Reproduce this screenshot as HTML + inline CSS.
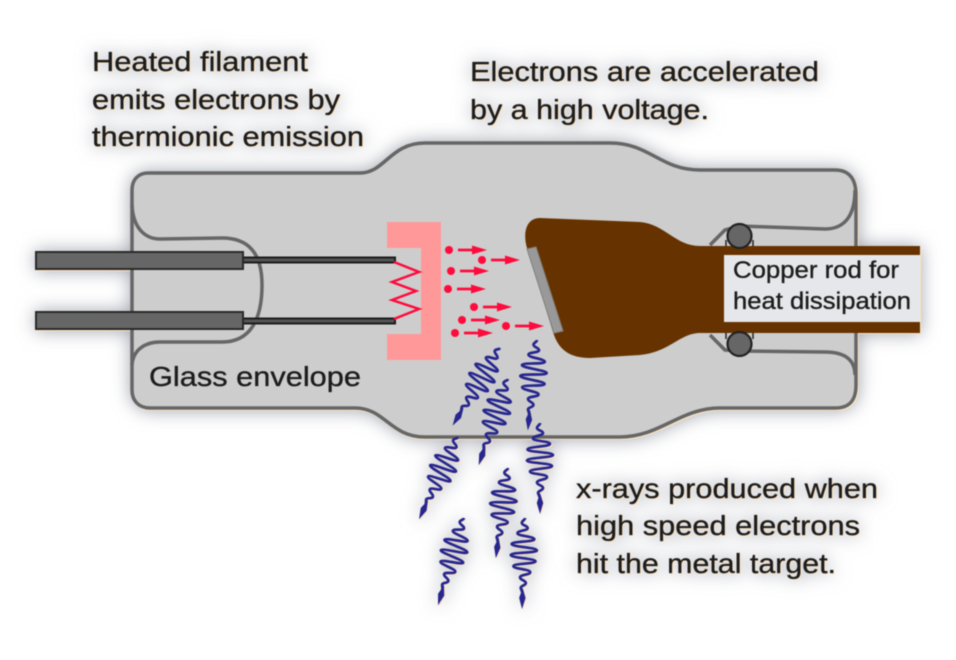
<!DOCTYPE html>
<html><head><meta charset="utf-8"><style>
html,body{margin:0;padding:0;background:#fff;width:956px;height:660px;overflow:hidden}
svg{display:block}
text{font-family:"Liberation Sans",sans-serif;fill:#1c1c1c;stroke:#1c1c1c;stroke-width:.35px}
.a{filter:drop-shadow(1px 1px 0 #fde3c0) drop-shadow(0 0 9px rgba(110,115,130,.65)) blur(.5px)}
</style></head><body>
<svg width="956" height="660" viewBox="0 0 956 660" xmlns="http://www.w3.org/2000/svg">
<defs>
<g id="w">
<path fill="none" stroke="#26268e" stroke-width="2.700" d="M0,0 C0,2.500 -3,2.500 -3,5 C-3,7.500 3,7.500 3,10 C3,12.700 -7,12.700 -7,15.500 C-7,18.200 10,18.200 10,21 C10,23.700 -12.500,23.700 -12.500,26.500 C-12.500,29.200 13,29.200 13,32 C13,34.700 -13,34.700 -13,37.500 C-13,40.200 12,40.200 12,43 C12,45.700 -10,45.700 -10,48.500 C-10,51.200 7,51.200 7,54 C7,56.700 -3,56.700 -3,59.500 C-3,62.200 3,62.200 3,65 C3,67.500 -2,67.500 -2,70 L0,75"/>
<path fill="#26268e" d="M0,70 L3.200,80 L0,91 L-3.200,80Z"/>
</g>
<g id="e"><circle cx="0" cy="0" r="4" fill="#ff0a3c"/><path d="M9,0 H26" stroke="#ff0a3c" stroke-width="2.800"/><path d="M23,-4.500 L38,0 L23,4.500Z" fill="#ff0a3c"/></g>
</defs>
<rect width="956" height="660" fill="#fff"/>
<g class="a">
<path d="M148,173 L360,173 C385,173 390,143 425,143 L610,143 C650,143 660,170 700,170 L835,170 C850,170 856,180 856,195 L856,385 C856,400 850,408 835,408 L720,408 C680,408 660,437 620,437 L425,437 C390,437 385,408 355,408 L150,408 C138,408 132,400 132,390 L132,190 C132,180 138,173 148,173Z" fill="#cdcdcd" stroke="#666" stroke-width="3.500"/>
<path d="M132,205 C133,228 145,239 160,239 L222,238 C250,238 262,255 262,285 C262,320 250,342 222,342 L160,342 C145,342 133,350 132,365" fill="none" stroke="#666" stroke-width="3.500"/>
<path d="M855,190 C855,215 845,229 825,229 L740,226 L725,230 L710,245" fill="none" stroke="#666" stroke-width="3.500"/>
<path d="M855,375 C855,360 845,352 825,352 L740,351 L725,350 L710,335" fill="none" stroke="#666" stroke-width="3.500"/>
<rect x="724" y="252" width="196" height="74" fill="#e6e7ea"/>
<path d="M540,218 L640,222 C665,224 675,246 700,246 L920,246 L920,255 L724,255 L724,322 L920,322 L920,333 L700,333 C680,333 670,352 640,355 L590,358 C565,358 557,345 553,332 L527,248 C523,235 525,218 540,218Z" fill="#663300"/>
<path d="M527,249 L536,247 L563,331 L554,333Z" fill="#999" stroke="#808080" stroke-width="1"/>
<circle cx="739.500" cy="236" r="12" fill="#666" stroke="#222" stroke-width="2.200"/>
<circle cx="739.500" cy="344" r="12" fill="#666" stroke="#222" stroke-width="2.200"/>
<path d="M726,246 V240 M753,246 V240 M726,333 V339 M753,333 V339" stroke="#222" stroke-width="1.500"/>
<path d="M387,222 H441 V360 H387 V334 H421 V248 H387Z" fill="#ff9999"/>
<rect x="243" y="257.500" width="152" height="5" fill="#555" stroke="#1c1c1c" stroke-width="2"/>
<rect x="243" y="318.500" width="152" height="5" fill="#555" stroke="#1c1c1c" stroke-width="2"/>
<polyline points="394,262 419,272 392,282 416,291 392,300 419,309 394,319" fill="none" stroke="#ff0a3c" stroke-width="2.500"/>
<rect x="36" y="252" width="207" height="17" fill="#666" stroke="#2a2a2a" stroke-width="2"/>
<rect x="36" y="312" width="207" height="17" fill="#666" stroke="#2a2a2a" stroke-width="2"/>
<use href="#e" x="449" y="250"/><use href="#e" x="482" y="260"/><use href="#e" x="451" y="271"/><use href="#e" x="448" y="289"/>
<use href="#e" x="474" y="307"/><use href="#e" x="462" y="320"/><use href="#e" x="506" y="326"/><use href="#e" x="455" y="333"/>
<use href="#w" transform="translate(500,348) rotate(31.400)"/>
<use href="#w" transform="translate(508,379) rotate(18.800)"/>
<use href="#w" transform="translate(537,340) rotate(5.800)"/>
<use href="#w" transform="translate(540,423)"/>
<use href="#w" transform="translate(458,437) rotate(25.400)"/>
<use href="#w" transform="translate(508,468) rotate(7.700)"/>
<use href="#w" transform="translate(464,518) rotate(16.600)"/>
<use href="#w" transform="translate(525,518) rotate(1.900)"/>
<g font-size="28">
<text x="92" y="71" textLength="216" lengthAdjust="spacingAndGlyphs">Heated filament</text>
<text x="92" y="109" textLength="248" lengthAdjust="spacingAndGlyphs">emits electrons by</text>
<text x="92" y="146" textLength="272" lengthAdjust="spacingAndGlyphs">thermionic emission</text>
<text x="470" y="81" textLength="349" lengthAdjust="spacingAndGlyphs">Electrons are accelerated</text>
<text x="470" y="119" textLength="239" lengthAdjust="spacingAndGlyphs">by a high voltage.</text>
<text x="576" y="498" textLength="302" lengthAdjust="spacingAndGlyphs">x-rays produced when</text>
<text x="576" y="535" textLength="284" lengthAdjust="spacingAndGlyphs">high speed electrons</text>
<text x="576" y="573" textLength="260" lengthAdjust="spacingAndGlyphs">hit the metal target.</text>
<text x="149" y="386" textLength="212" lengthAdjust="spacingAndGlyphs">Glass envelope</text>
</g>
<g font-size="24">
<text x="733" y="278" textLength="166" lengthAdjust="spacingAndGlyphs">Copper rod for</text>
<text x="733" y="309" textLength="178" lengthAdjust="spacingAndGlyphs">heat dissipation</text>
</g>
</g>
</svg>
</body></html>
